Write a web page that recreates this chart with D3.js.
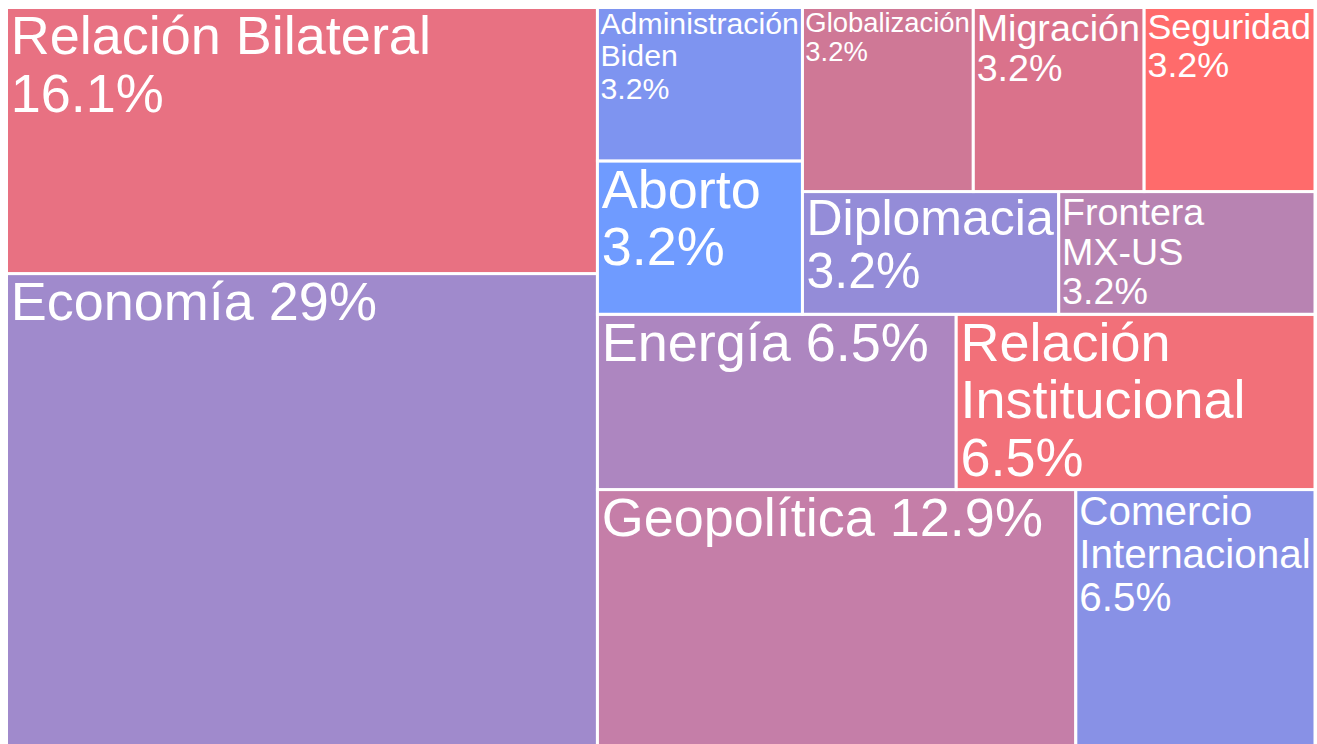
<!DOCTYPE html>
<html>
<head>
<meta charset="utf-8">
<script src="https://cdn.jsdelivr.net/npm/d3@7"></script>
<style>
  html, body { margin: 0; padding: 0; background: #fff; overflow: hidden; }
  svg { display: block; }
  text { font-family: "Liberation Sans", Arial, sans-serif; fill: #fff; }
</style>
</head>
<body>
<div id="chart"></div>
<script>
// topics and how many items fall in each one
let categories = ["Aborto", "Administración Biden", "Comercio Internacional", "Diplomacia",
    "Economía", "Energía", "Frontera MX-US", "Geopolítica", "Globalización", "Migración",
    "Relación Bilateral", "Relación Institucional", "Seguridad"];
let counts = [1, 1, 2, 1, 9, 2, 1, 4, 1, 1, 5, 2, 1];
// how the label of each tile is broken into lines ({p} = percent of total)
let textTemplates = ["Aborto|{p}", "Administración|Biden|{p}", "Comercio|Internacional|{p}",
    "Diplomacia|{p}", "Economía {p}", "Energía {p}", "Frontera|MX-US|{p}", "Geopolítica {p}",
    "Globalización|{p}", "Migración|{p}", "Relación Bilateral|{p}", "Relación|Institucional|{p}",
    "Seguridad|{p}"];

let tileColors = ["#6f9bff", "#7e94f0", "#8891e6", "#948cd8", "#a08acc", "#ad86c0", "#b883b2",
    "#c57ea8", "#cf7896", "#da728b", "#e87182", "#f27079", "#ff6b6b"];

let width = 1317, height = 744;
let maxFont = 54, lineH = 1.06, gap = 3;

let svg = d3.select("#chart")
    .append("svg")
    .attr("width", width)
    .attr("height", height);

let data = {
    name: "root",
    children: categories.map(function (c, i) {
        return { name: c, value: counts[i], tpl: textTemplates[i], color: tileColors[i] };
    })
};
let total = d3.sum(counts);

// squarified layout in a unit square, stretched onto the page (plot runs past the bottom edge)
let root = d3.hierarchy(data)
    .sum(function (d) { return d.value || 0; })
    .sort(function (a, b) { return (b.value - a.value) || a.data.name.localeCompare(b.data.name, "es"); });

d3.treemap()
    .tile(d3.treemapSquarify.ratio(1))
    .size([1, 1])(root);

let x = d3.scaleLinear().domain([0, 1]).range([6.5, 1315]);
let y = d3.scaleLinear().domain([0, 1]).range([752.5, 7.5]);

let fmtPct = function (v) { return d3.format(".1%")(v).replace(".0%", "%"); };

// measure text at 100px to fit each label
let probe = svg.append("text").style("font-size", "100px");
function measure(s) {
    probe.text(s);
    return probe.node().getComputedTextLength() / 100;
}

let cells = svg.selectAll("g.cell")
    .data(root.leaves())
    .enter()
    .append("g")
    .attr("class", "cell");

cells.append("rect")
    .attr("x", function (d) { return x(d.x0); })
    .attr("y", function (d) { return y(d.y1); })
    .attr("width", function (d) { return x(d.x1) - x(d.x0); })
    .attr("height", function (d) { return y(d.y0) - y(d.y1); })
    .attr("fill", function (d) { return d.data.color; })
    .attr("stroke", "#fff")
    .attr("stroke-width", gap);

cells.each(function (d) {
    let g = d3.select(this);
    let lines = d.data.tpl.replace("{p}", fmtPct(d.value / total)).split("|");
    let left = x(d.x0) + gap / 2, top = y(d.y1) + gap / 2;
    let w = x(d.x1) - x(d.x0) - gap, h = y(d.y0) - y(d.y1) - gap;
    let widest = d3.max(lines, measure);
    let fs = Math.min(maxFont,
        w / (widest + 0.12),
        h / (0.86 + lineH * (lines.length - 1) + 0.2));
    let t = g.append("text")
        .attr("x", left + 0.05 * fs)
        .attr("y", top + 0.84 * fs)
        .style("font-size", fs + "px");
    t.selectAll("tspan")
        .data(lines)
        .enter()
        .append("tspan")
        .attr("x", left + 0.05 * fs)
        .attr("dy", function (l, i) { return i === 0 ? 0 : lineH * fs; })
        .text(function (l) { return l; });
});

probe.remove();
</script>
</body>
</html>
